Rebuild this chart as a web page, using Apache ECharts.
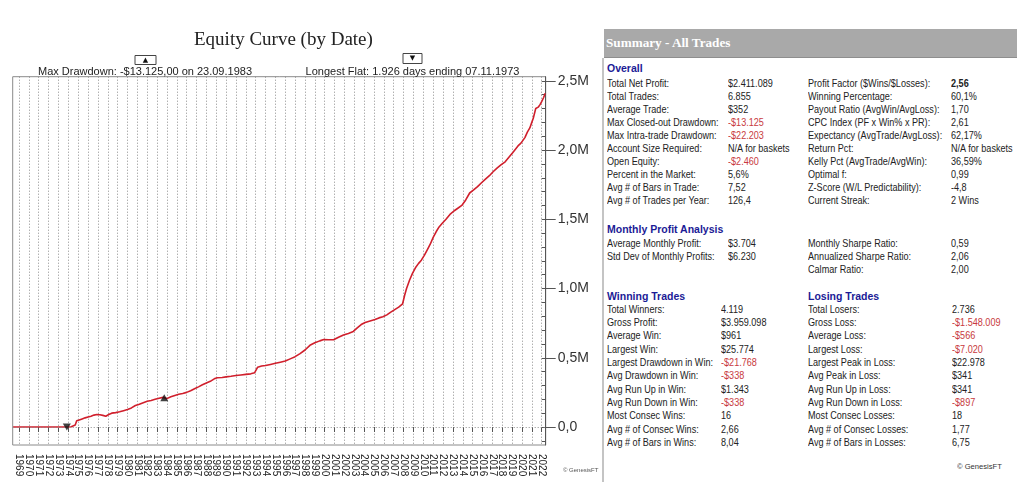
<!DOCTYPE html>
<html>
<head>
<meta charset="utf-8">
<script src="https://cdn.jsdelivr.net/npm/echarts@6/dist/echarts.min.js"></script>
<style>
  html,body{margin:0;padding:0;background:#fff;width:1024px;height:485px;overflow:hidden;}
  #chart{position:absolute;left:0;top:0;width:600px;height:485px;}
  .t{position:absolute;white-space:nowrap;font-family:'Liberation Sans','Arial',sans-serif;font-size:11.5px;line-height:13px;height:13px;color:#222;transform:scaleX(0.79);transform-origin:0 50%;}
  .h{position:absolute;white-space:nowrap;font-family:'Liberation Sans','Arial',sans-serif;font-weight:bold;font-size:10.5px;line-height:13px;height:13px;color:#1b1b96;}
  .red{color:#c83a40;}
  .b{font-weight:bold;}
</style>
</head>
<body>
<div id="chart"></div>
<div id="panel"></div>
<script>
// ---------------- chart data ----------------
const equityDates = [1968.40,1973.80,1973.90,1974.30,1974.70,1974.85,1975.10,1975.40,1975.70,1976.00,1976.30,1976.60,1976.90,1977.20,1977.50,1977.80,1978.10,1978.40,1978.80,1979.20,1979.60,1980.00,1980.40,1980.80,1981.20,1981.60,1982.00,1982.40,1982.80,1983.20,1983.60,1983.73,1984.00,1984.40,1984.80,1985.20,1985.60,1986.00,1986.40,1986.80,1987.20,1987.60,1988.00,1988.40,1988.80,1989.10,1989.60,1990.00,1990.50,1991.00,1991.50,1992.00,1992.50,1992.90,1993.20,1993.60,1994.00,1994.50,1995.00,1995.50,1996.00,1996.50,1997.00,1997.50,1998.00,1998.50,1999.00,1999.50,1999.90,2000.40,2000.90,2001.40,2001.90,2002.40,2002.90,2003.30,2003.70,2004.10,2004.60,2005.10,2005.50,2005.90,2006.30,2006.70,2007.10,2007.50,2007.90,2008.10,2008.30,2008.60,2008.90,2009.20,2009.50,2009.80,2010.10,2010.40,2010.70,2011.00,2011.30,2011.60,2011.90,2012.30,2012.70,2013.10,2013.50,2013.90,2014.30,2014.70,2015.10,2015.50,2015.90,2016.30,2016.70,2017.10,2017.50,2017.90,2018.30,2018.70,2019.10,2019.60,2019.90,2020.30,2020.55,2020.80,2021.00,2021.15,2021.40,2021.65,2021.85,2022.00,2022.20,2022.36];
const equityValues = [0,0,-4000,2000,15000,45000,50000,58000,66000,72000,78000,86000,90000,88000,84000,78000,90000,100000,104000,110000,118000,126000,138000,155000,165000,176000,186000,192000,200000,208000,214000,201000,205000,218000,228000,236000,242000,250000,262000,276000,290000,305000,318000,330000,348000,356000,358000,362000,366000,372000,376000,380000,384000,392000,432000,440000,444000,452000,460000,468000,476000,492000,508000,530000,556000,590000,608000,622000,632000,630000,630000,648000,664000,676000,690000,716000,740000,755000,766000,776000,788000,796000,810000,830000,848000,866000,890000,950000,1000000,1060000,1110000,1150000,1180000,1205000,1240000,1280000,1320000,1370000,1410000,1445000,1470000,1500000,1535000,1560000,1580000,1600000,1640000,1690000,1712000,1736000,1764000,1790000,1815000,1845000,1872000,1895000,1915000,1950000,1985000,2030000,2050000,2090000,2130000,2160000,2200000,2230000,2300000,2310000,2330000,2350000,2380000,2410000];
const yearTicks = []; for (let y = 1969; y <= 2022; y++) yearTicks.push(y);
const yMajorTicks = [0, 500000, 1000000, 1500000, 2000000, 2500000];
const yMinorTicks = [-100000,0,100000,200000,300000,400000,500000,600000,700000,800000,900000,1000000,1100000,1200000,1300000,1400000,1500000,1600000,1700000,1800000,1900000,2000000,2100000,2200000,2300000,2400000,2500000];
const markerDates = [1973.85, 1983.73];
const markerValues = [0, 212000];
const markerRotations = [180, 0];

const titleText = 'Equity Curve (by Date)';
const maxDrawdownText = 'Max Drawdown: -$13.125,00 on 23.09.1983';
const longestFlatText = 'Longest Flat: 1.926 days ending 07.11.1973';

// ---------------- table data ----------------
const overallLeft = [
  ['Total Net Profit:', '$2.411.089'], ['Total Trades:', '6.855'], ['Average Trade:', '$352'],
  ['Max Closed-out Drawdown:', '-$13.125'], ['Max Intra-trade Drawdown:', '-$22.203'],
  ['Account Size Required:', 'N/A for baskets'], ['Open Equity:', '-$2.460'],
  ['Percent in the Market:', '5,6%'], ['Avg # of Bars in Trade:', '7,52'], ['Avg # of Trades per Year:', '126,4']
];
const overallRight = [
  ['Profit Factor ($Wins/$Losses):', '2,56'], ['Winning Percentage:', '60,1%'],
  ['Payout Ratio (AvgWin/AvgLoss):', '1,70'], ['CPC Index (PF x Win% x PR):', '2,61'],
  ['Expectancy (AvgTrade/AvgLoss):', '62,17%'], ['Return Pct:', 'N/A for baskets'],
  ['Kelly Pct (AvgTrade/AvgWin):', '36,59%'], ['Optimal f:', '0,99'],
  ['Z-Score (W/L Predictability):', '-4,8'], ['Current Streak:', '2 Wins']
];
const monthlyLeft = [['Average Monthly Profit:', '$3.704'], ['Std Dev of Monthly Profits:', '$6.230']];
const monthlyRight = [['Monthly Sharpe Ratio:', '0,59'], ['Annualized Sharpe Ratio:', '2,06'], ['Calmar Ratio:', '2,00']];
const winningRows = [
  ['Total Winners:', '4.119'], ['Gross Profit:', '$3.959.098'], ['Average Win:', '$961'],
  ['Largest Win:', '$25.774'], ['Largest Drawdown in Win:', '-$21.768'], ['Avg Drawdown in Win:', '-$338'],
  ['Avg Run Up in Win:', '$1.343'], ['Avg Run Down in Win:', '-$338'], ['Most Consec Wins:', '16'],
  ['Avg # of Consec Wins:', '2,66'], ['Avg # of Bars in Wins:', '8,04']
];
const losingRows = [
  ['Total Losers:', '2.736'], ['Gross Loss:', '-$1.548.009'], ['Average Loss:', '-$566'],
  ['Largest Loss:', '-$7.020'], ['Largest Peak in Loss:', '$22.978'], ['Avg Peak in Loss:', '$341'],
  ['Avg Run Up in Loss:', '$341'], ['Avg Run Down in Loss:', '-$897'], ['Most Consec Losses:', '18'],
  ['Avg # of Consec Losses:', '1,77'], ['Avg # of Bars in Losses:', '6,75']
];
const boldValues = ['2,56'];

// ---------------- build table ----------------
const panel = document.getElementById('panel');
function addDiv(cls, text, x, yc, extraStyle) {
  const d = document.createElement('div');
  d.className = cls;
  d.textContent = text;
  d.style.left = x + 'px';
  d.style.top = (yc - 6.5) + 'px';
  if (extraStyle) d.style.cssText += extraStyle;
  panel.appendChild(d);
  return d;
}
function addRows(rows, xl, xv, y0, dy) {
  rows.forEach((r, i) => {
    const y = y0 + i * dy;
    addDiv('t', r[0], xl, y);
    let cls = 't';
    if (r[1].indexOf('-$') === 0) cls += ' red';
    if (boldValues.indexOf(r[1]) >= 0) cls += ' b';
    addDiv(cls, r[1], xv, y);
  });
}
// header bar
const hb = document.createElement('div');
hb.style.cssText = 'position:absolute;left:604px;top:29px;width:413px;height:28px;background:#a9a9a9;border-bottom:1px solid #8e8e8e;';
panel.appendChild(hb);
const ht = document.createElement('div');
ht.textContent = 'Summary - All Trades';
ht.style.cssText = 'position:absolute;left:606px;top:34.5px;font-family:"Liberation Serif","Times New Roman",serif;font-weight:bold;font-size:13.2px;line-height:15px;color:#fff;white-space:nowrap;';
panel.appendChild(ht);
const lb = document.createElement('div');
lb.style.cssText = 'position:absolute;left:602px;top:58px;width:2px;height:424px;background:#c4c4c4;';
panel.appendChild(lb);

addDiv('h', 'Overall', 607, 68.5);
addRows(overallLeft, 607, 728, 83, 13.1);
addRows(overallRight, 808, 951, 83, 13.1);
addDiv('h', 'Monthly Profit Analysis', 607, 229.3);
addRows(monthlyLeft, 607, 728, 243.3, 13.3);
addRows(monthlyRight, 808, 951, 243.3, 13.3);
addDiv('h', 'Winning Trades', 607, 296.7);
addDiv('h', 'Losing Trades', 808, 296.7);
addRows(winningRows, 607, 721, 309.3, 13.33);
addRows(losingRows, 808, 952, 309.3, 13.33);
addDiv('t', '\u00A9 GenesisFT', 957, 466.5, 'font-size:8px;color:#333;transform:scaleX(0.95);');

// ---------------- chart ----------------
const chart = echarts.init(document.getElementById('chart'));
const lineData = equityDates.map((d, i) => [d, equityValues[i]]);
const markerData = markerDates.map((d, i) => ({ value: [d, markerValues[i]], symbolRotate: markerRotations[i] }));
function yFmt(v) { return v === 0 ? '0,0' : (v / 1e6).toFixed(1).replace('.', ',') + 'M'; }

chart.setOption({
  animation: false,
  backgroundColor: '#fff',
  grid: { left: 12.7, right: 54.3, top: 76.7, bottom: 40, show: true, borderColor: '#8a8a8a', borderWidth: 1, backgroundColor: '#fff' },
  xAxis: {
    type: 'value', min: 1968.36, max: 2022.41,
    axisLine: { show: false },
    axisTick: { show: true, customValues: yearTicks, length: 5, lineStyle: { color: '#555' } },
    axisLabel: { customValues: yearTicks, formatter: function (v) { return String(Math.round(v)); }, interval: 0, hideOverlap: false, showMinLabel: true, showMaxLabel: true, rotate: -90, fontSize: 10, color: '#222', margin: 9, fontFamily: 'Liberation Sans' },
    splitLine: { show: true, lineStyle: { type: [1, 2], color: '#8c8c8c', width: 1 } }
  },
  yAxis: [
    {
      type: 'value', position: 'right', min: -130000, max: 2530000,
      axisLine: { show: true, lineStyle: { color: '#555', width: 1 } },
      axisTick: { show: true, customValues: yMajorTicks, length: 10, inside: false, lineStyle: { color: '#555' } },
      axisLabel: { customValues: yMajorTicks, formatter: yFmt, fontSize: 14, color: '#333', margin: 12, fontFamily: 'Liberation Sans' },
      splitLine: { show: false }
    },
    {
      type: 'value', position: 'right', min: -130000, max: 2530000,
      axisLine: { show: false },
      axisTick: { show: true, customValues: yMinorTicks, length: 4, inside: true, lineStyle: { color: '#555' } },
      axisLabel: { show: false },
      splitLine: { show: false }
    }
  ],
  series: [
    {
      type: 'line', data: lineData, showSymbol: false, symbol: 'none',
      lineStyle: { color: '#d01f2c', width: 1.6 }, itemStyle: { color: '#d01f2c' }, z: 3,
      markLine: {
        silent: true, symbol: 'none', label: { show: false },
        lineStyle: { type: [1, 2], color: '#8c8c8c', width: 1 },
        data: [{ yAxis: 0 }]
      }
    },
    {
      type: 'scatter', data: markerData, symbol: 'triangle', symbolSize: [8, 7],
      itemStyle: { color: '#111' }, z: 5
    }
  ],
  graphic: [
    { type: 'text', left: 290 - 96, top: 31, style: { text: titleText, font: '19px "Liberation Serif", "Times New Roman", serif', fill: '#222' } },
    { type: 'rect', shape: { x: 135, y: 55.5, width: 21, height: 9 }, style: { fill: '#fff', stroke: '#444', lineWidth: 1 } },
    { type: 'text', x: 145.5, y: 60, style: { text: '\u25B2', font: '7px "DejaVu Sans", sans-serif', fill: '#111', align: 'center', verticalAlign: 'middle' } },
    { type: 'text', x: 145, y: 71.5, style: { text: maxDrawdownText, font: '11px "Liberation Sans", Arial, sans-serif', fill: '#222', align: 'center', verticalAlign: 'middle' } },
    { type: 'rect', shape: { x: 403, y: 53.5, width: 19, height: 10 }, style: { fill: '#fff', stroke: '#444', lineWidth: 1 } },
    { type: 'text', x: 412.5, y: 58.5, style: { text: '\u25BC', font: '7px "DejaVu Sans", sans-serif', fill: '#111', align: 'center', verticalAlign: 'middle' } },
    { type: 'text', x: 412.5, y: 71.5, style: { text: longestFlatText, font: '11px "Liberation Sans", Arial, sans-serif', fill: '#222', align: 'center', verticalAlign: 'middle' } },
    { type: 'text', x: 563, y: 470, style: { text: '\u00A9 GenesisFT', font: '6px "Liberation Sans", Arial, sans-serif', fill: '#555', verticalAlign: 'middle' } }
  ]
});
</script>
</body>
</html>
